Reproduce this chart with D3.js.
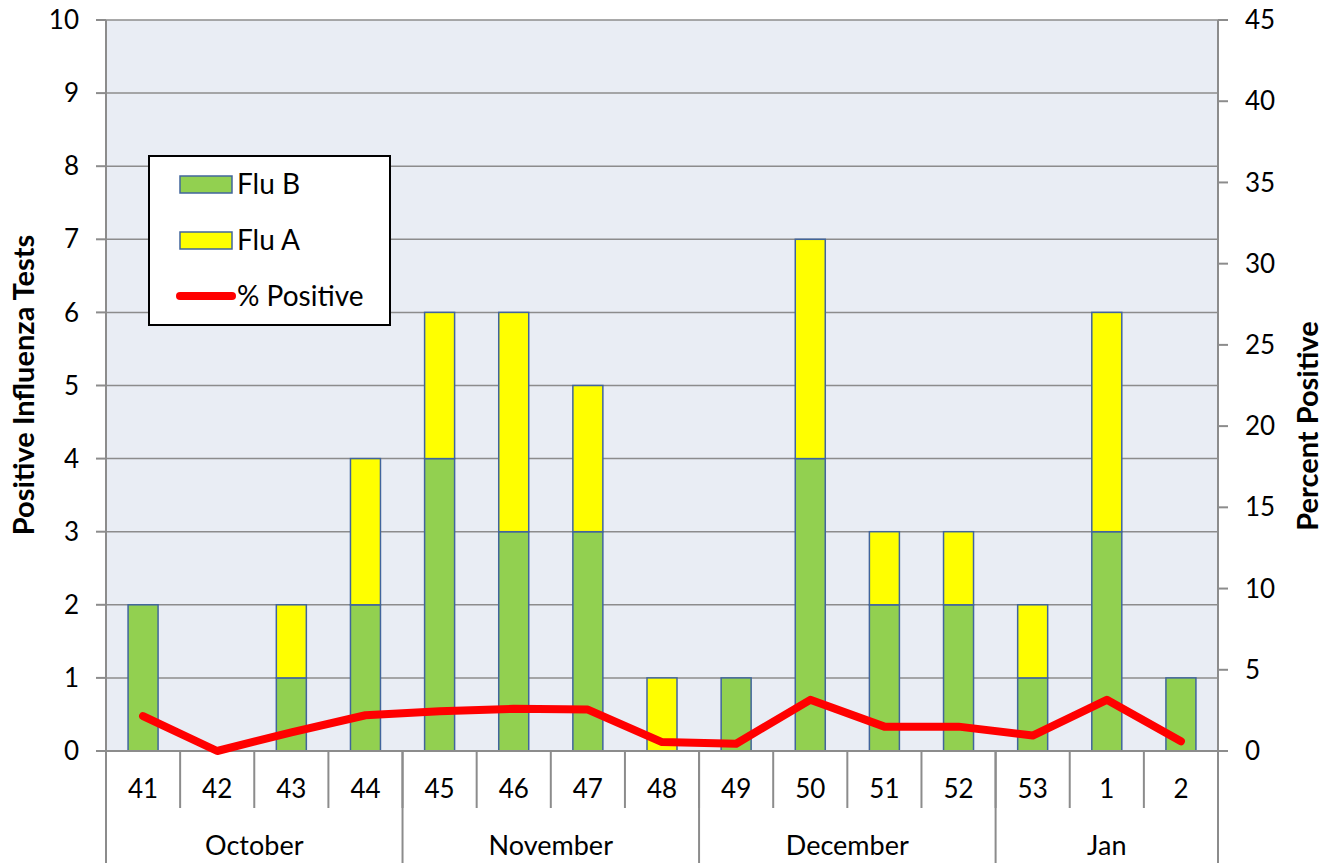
<!DOCTYPE html>
<html>
<head>
<meta charset="utf-8">
<script src="https://cdn.jsdelivr.net/npm/d3@7"></script>
<style>
  body { margin: 0; background: #fff; }
  text { font-family: Lato, "Open Sans", sans-serif; fill: #000; }
</style>
</head>
<body>
<div class="chart"></div>
<script>
const weeks = ["41", "42", "43", "44", "45", "46", "47", "48", "49", "50", "51", "52", "53", "1", "2"];
const fluB = [2, 0, 1, 2, 4, 3, 3, 0, 1, 4, 2, 2, 1, 3, 1];
const fluA = [0, 0, 1, 2, 2, 3, 2, 1, 0, 3, 1, 1, 1, 3, 0];
const pctPositive = [2.15, 0, 1.15, 2.2, 2.45, 2.6, 2.55, 0.55, 0.45, 3.15, 1.5, 1.5, 0.95, 3.15, 0.6];
const months = [
    {name: "October", start: 0, end: 4},
    {name: "November", start: 4, end: 8},
    {name: "December", start: 8, end: 12},
    {name: "Jan", start: 12, end: 15}
];
const leftTicks = d3.range(0, 11);
const rightTicks = d3.range(0, 50, 5);

const W = 1329, H = 863;
const plot = {left: 106, right: 1218, top: 20, bottom: 751};

const svg = d3.select(".chart")
    .append("svg")
    .attr("width", W)
    .attr("height", H);

const x = d3.scaleBand()
    .domain(weeks.map((d, i) => i))
    .range([plot.left, plot.right]);
const y = d3.scaleLinear().domain([0, 10]).range([plot.bottom, plot.top]);
const y2 = d3.scaleLinear().domain([0, 45]).range([plot.bottom, plot.top]);

// plot background
svg.append("rect")
    .attr("x", plot.left).attr("y", plot.top)
    .attr("width", plot.right - plot.left).attr("height", plot.bottom - plot.top)
    .attr("fill", "#E9EDF4");

// gridlines
svg.append("g").selectAll("line")
    .data(leftTicks.slice(1))
    .join("line")
    .attr("x1", plot.left).attr("x2", plot.right)
    .attr("y1", d => y(d)).attr("y2", d => y(d))
    .attr("stroke", "#8C8C8C").attr("stroke-width", 1.5);

// stacked bars
const barW = 30;
const bars = svg.append("g");
weeks.forEach((w, i) => {
    const cx = x(i) + x.bandwidth() / 2;
    if (fluB[i] > 0) {
        bars.append("rect")
            .attr("x", cx - barW / 2).attr("width", barW)
            .attr("y", y(fluB[i])).attr("height", y(0) - y(fluB[i]))
            .attr("fill", "#92D050").attr("stroke", "#41659C").attr("stroke-width", 1.5);
    }
    if (fluA[i] > 0) {
        bars.append("rect")
            .attr("x", cx - barW / 2).attr("width", barW)
            .attr("y", y(fluB[i] + fluA[i])).attr("height", y(fluB[i]) - y(fluB[i] + fluA[i]))
            .attr("fill", "#FFFF00").attr("stroke", "#41659C").attr("stroke-width", 1.5);
    }
});

// axes lines
const axisColor = "#8C8C8C";
svg.append("line")
    .attr("x1", plot.left).attr("x2", plot.left)
    .attr("y1", plot.top).attr("y2", H)
    .attr("stroke", axisColor).attr("stroke-width", 2);
svg.append("line")
    .attr("x1", plot.right).attr("x2", plot.right)
    .attr("y1", plot.top).attr("y2", H)
    .attr("stroke", axisColor).attr("stroke-width", 2);
svg.append("line")
    .attr("x1", plot.left - 10).attr("x2", plot.right + 10)
    .attr("y1", plot.bottom).attr("y2", plot.bottom)
    .attr("stroke", axisColor).attr("stroke-width", 2);

// left axis
const gl = svg.append("g");
gl.selectAll("line").data(leftTicks).join("line")
    .attr("x1", plot.left - 10).attr("x2", plot.left)
    .attr("y1", d => y(d)).attr("y2", d => y(d))
    .attr("stroke", axisColor).attr("stroke-width", 2);
gl.selectAll("text").data(leftTicks).join("text")
    .attr("x", 79).attr("y", d => y(d))
    .attr("dy", "0.35em")
    .attr("text-anchor", "end")
    .style("font-size", "26px")
    .text(d => d);

// right axis
const gr = svg.append("g");
gr.selectAll("line").data(rightTicks).join("line")
    .attr("x1", plot.right).attr("x2", plot.right + 10)
    .attr("y1", d => y2(d)).attr("y2", d => y2(d))
    .attr("stroke", axisColor).attr("stroke-width", 2);
gr.selectAll("text").data(rightTicks).join("text")
    .attr("x", 1245).attr("y", d => y2(d))
    .attr("dy", "0.35em")
    .attr("text-anchor", "start")
    .style("font-size", "26px")
    .text(d => d);

// category axis: week separators and labels
const gx = svg.append("g");
gx.selectAll("line").data(d3.range(1, weeks.length)).join("line")
    .attr("x1", i => x(i)).attr("x2", i => x(i))
    .attr("y1", plot.bottom).attr("y2", 808)
    .attr("stroke", axisColor).attr("stroke-width", 2);
gx.selectAll("text").data(weeks).join("text")
    .attr("x", (d, i) => x(i) + x.bandwidth() / 2)
    .attr("y", 798)
    .attr("text-anchor", "middle")
    .style("font-size", "26px")
    .text(d => d);

// month separators and labels
const gm = svg.append("g");
gm.selectAll("line").data(months.slice(1)).join("line")
    .attr("x1", d => x(d.start)).attr("x2", d => x(d.start))
    .attr("y1", plot.bottom).attr("y2", H)
    .attr("stroke", axisColor).attr("stroke-width", 2);
gm.selectAll("text").data(months).join("text")
    .attr("x", d => (x(d.start) + (d.end < weeks.length ? x(d.end) : plot.right)) / 2)
    .attr("y", 855)
    .attr("text-anchor", "middle")
    .style("font-size", "27px")
    .text(d => d.name);

// percent positive line
const line = d3.line()
    .x((d, i) => x(i) + x.bandwidth() / 2)
    .y(d => y2(d));
svg.append("path")
    .datum(pctPositive)
    .attr("d", line)
    .attr("fill", "none")
    .attr("stroke", "#FF0000")
    .attr("stroke-width", 8)
    .attr("stroke-linejoin", "round")
    .attr("stroke-linecap", "round");

// axis titles
svg.append("text")
    .attr("transform", "translate(34,385) rotate(-90)")
    .attr("text-anchor", "middle")
    .style("font-size", "29px").style("font-weight", "bold")
    .text("Positive Influenza Tests");
svg.append("text")
    .attr("transform", "translate(1318,426) rotate(-90)")
    .attr("text-anchor", "middle")
    .style("font-size", "29px").style("font-weight", "bold")
    .text("Percent Positive");

// legend
const lg = svg.append("g");
lg.append("rect")
    .attr("x", 149).attr("y", 156).attr("width", 241).attr("height", 169)
    .attr("fill", "#fff").attr("stroke", "#000").attr("stroke-width", 2);
const legendItems = [
    {label: "Flu B", color: "#92D050", type: "rect", y: 184},
    {label: "Flu A", color: "#FFFF00", type: "rect", y: 240},
    {label: "% Positive", color: "#FF0000", type: "line", y: 296}
];
legendItems.forEach(d => {
    if (d.type === "rect") {
        lg.append("rect")
            .attr("x", 180).attr("y", d.y - 8).attr("width", 52).attr("height", 17)
            .attr("fill", d.color).attr("stroke", "#41659C").attr("stroke-width", 1.5);
    } else {
        lg.append("line")
            .attr("x1", 180).attr("x2", 232).attr("y1", d.y).attr("y2", d.y)
            .attr("stroke", d.color).attr("stroke-width", 8).attr("stroke-linecap", "round");
    }
    lg.append("text")
        .attr("x", 237).attr("y", d.y)
        .attr("dy", "0.35em")
        .style("font-size", "28px")
        .text(d.label);
});
</script>
</body>
</html>
